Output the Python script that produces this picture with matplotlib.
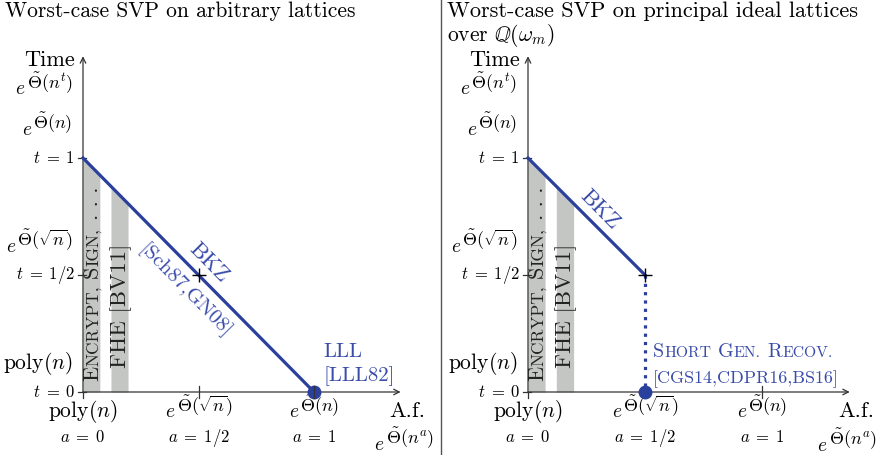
import matplotlib
matplotlib.use("Agg")
import numpy as np
import matplotlib.pyplot as plt
from matplotlib import transforms
from matplotlib.font_manager import FontProperties
from matplotlib.lines import Line2D

plt.rcParams['mathtext.fontset'] = 'cm'
plt.rcParams['font.family'] = ['cmr10', 'DejaVu Serif']
plt.rcParams['axes.formatter.use_mathtext'] = True

BLUE = '#2b3f9c'
TEXT_BLUE = '#3a4caa'
GRAY = '#c4c6c4'
AXIS = '#333333'

# axis ticks / labels ("e^..." labels are drawn as e + big exponent)
T_TICKS = [1, 0.5, 0]
T_TICK_LABELS = [r'$t\;=\;1$', r'$t\;=\;1/2$', r'$t\;=\;0$']
TIME_LABELS = [r'e^\tilde{\Theta}(n)', r'e^\tilde{\Theta}(\sqrt{n})', r'$\mathrm{poly}(n)$']
TIME_GENERAL = r'e^\tilde{\Theta}(n^t)'
A_TICKS = [0, 0.5, 1]
AF_LABELS = [r'$\mathrm{poly}(n)$', r'e^\tilde{\Theta}(\sqrt{n})', r'e^\tilde{\Theta}(n)']
A_TICK_LABELS = [r'$a\;=\;0$', r'$a\;=\;1/2$', r'$a\;=\;1$']
AF_GENERAL = r'e^\tilde{\Theta}(n^a)'

# shaded application ranges (approx. factor a)
APP_RANGES = [(0.0, 0.073), (0.121, 0.195)]

# algorithms: (a, t) curves
BKZ_A_ARB = [0, 1]
BKZ_T_ARB = [1, 0]
LLL_POINT = (1, 0)
BKZ_A_PRIN = [0, 0.5]
BKZ_T_PRIN = [1, 0.5]
SGR_A = [0.5, 0.5]
SGR_T = [0.5, 0]
SGR_POINT = (0.5, 0)

W, H = 885, 455
fig = plt.figure(figsize=(W / 100, H / 100), dpi=100)
renderer = fig.canvas.get_renderer()


def advance(s, size):
    fp = FontProperties(family='cmr10', size=size)
    w1, _, _ = renderer.get_text_width_height_descent(s + 'H', fp, ismath=False)
    w0, _, _ = renderer.get_text_width_height_descent('H', fp, ismath=False)
    return w1 - w0


def caps_pieces(words, size, small=0.78):
    # fake small caps: first letter full size, the rest smaller upper case
    out = []
    for i, word in enumerate(words):
        if i:
            out.append((' ', size))
        if word[0].isalpha():
            out.append((word[0], size))
            out.append((word[1:].upper(), size * small))
        else:
            out.append((word, size))
    return out


def run_text(ax, x, y, pieces, rotation=0, color='k'):
    rad = np.deg2rad(rotation)
    ux, uy = np.cos(rad), np.sin(rad)
    pos = 0.0
    for s, fs in pieces:
        if s.strip():
            tr = transforms.offset_copy(ax.transData, fig=fig, x=pos * ux, y=pos * uy, units='dots')
            ax.text(x, y, s, fontsize=fs, rotation=rotation, rotation_mode='anchor',
                    ha='left', va='baseline', color=color, transform=tr, clip_on=False)
        pos += advance(s, fs)


def label(ax, x, y, s, ha, size=15.5, e_size=14, x_size=13, rise=6.5):
    if not s.startswith('e^'):
        ax.text(x, y, s, ha=ha, va='baseline', fontsize=size)
        return
    expo = '$' + s[2:] + '$'
    w_e = renderer.get_text_width_height_descent('$e$', FontProperties(size=e_size), ismath=True)[0]
    w_x = renderer.get_text_width_height_descent(expo, FontProperties(size=x_size), ismath=True)[0]
    total = w_e + 1 + w_x
    start = {'right': -total, 'center': -total / 2, 'left': 0}[ha]
    tr = transforms.offset_copy(ax.transData, fig=fig, x=start, y=0, units='dots')
    ax.text(x, y, '$e$', ha='left', va='baseline', fontsize=e_size, transform=tr)
    tr = transforms.offset_copy(ax.transData, fig=fig, x=start + w_e + 1, y=rise, units='dots')
    ax.text(x, y, expo, ha='left', va='baseline', fontsize=x_size, transform=tr)


def panel(left_px, width_px, x0_px, scale):
    ax = fig.add_axes([left_px / W, 0, width_px / W, 1])
    ax.set_xlim(-(x0_px - left_px) / scale, (left_px + width_px - x0_px) / scale)
    ax.set_ylim(-(H - 392) / 234, 392 / 234)
    ax.axis('off')
    kw = dict(arrowprops=dict(arrowstyle='->', lw=0.9, color=AXIS, shrinkA=0, shrinkB=0))
    ax.annotate('', xy=(1.375, 0), xytext=(0, 0), **kw)
    ax.annotate('', xy=(0, 1.435), xytext=(0, 0), **kw)
    dx = 5 / scale
    dy = 6 / 234
    for t, lab in zip(T_TICKS, T_TICK_LABELS):
        ax.plot([-dx, dx * 0.6], [t, t], color=AXIS, lw=0.9)
        ax.text(-0.033, t, lab, ha='right', va='center', fontsize=12)
    for t, lab in zip(T_TICKS, TIME_LABELS):
        label(ax, -0.045, t + 0.1, lab, 'right')
    label(ax, -0.045, 1.272, TIME_GENERAL, 'right')
    ax.text(-0.035, 1.393, 'Time', ha='right', va='baseline', fontsize=16)
    for a, lab, lab2 in zip(A_TICKS, AF_LABELS, A_TICK_LABELS):
        label(ax, a, -0.108, lab, 'center')
        ax.text(a, -0.214, lab2, ha='center', va='baseline', fontsize=12)
    ax.text(1.325, -0.107, 'A.f.', ha='left', va='baseline', fontsize=16)
    for a0, a1 in APP_RANGES:
        xs = np.linspace(a0, a1, 20)
        ax.fill_between(xs, 0, 1 - xs, color=GRAY, lw=0, zorder=1)
    run_text(ax, 0.064, 0.047, caps_pieces(['Encrypt,', 'Sign,', '. . .'], 16), rotation=90,
             color='#222222')
    ax.text(0.186, 0.103, 'FHE [BV11]', rotation=90, rotation_mode='anchor', ha='left',
            va='baseline', fontsize=16.5, color='#222222')
    return ax, dx, dy


# left panel: arbitrary lattices
ax1, dx1, dy1 = panel(0, 440, 83, 231)
for a in A_TICKS:
    ax1.plot([a, a], [-dy1, dy1 if a > 0 else 0], color=AXIS, lw=0.9, zorder=4)
ax1.plot(BKZ_A_ARB, BKZ_T_ARB, color=BLUE, lw=2.3, zorder=3)
ax1.plot(*LLL_POINT, 'o', color=BLUE, ms=9, zorder=3)
ax1.plot(0.5, 0.5, '+', color='k', ms=10, mew=1.0, zorder=4)
ax1.text(0.545, 0.551, 'BKZ', rotation=-45.4, rotation_mode='anchor', ha='center', va='center',
         fontsize=16, color=TEXT_BLUE)
ax1.text(0.442, 0.43, '[Sch87,GN08]', rotation=-45.4, rotation_mode='anchor', ha='center',
         va='center', fontsize=15, color=TEXT_BLUE)
ax1.text(1.039, 0.15, 'LLL', ha='left', va='baseline', fontsize=15, color=TEXT_BLUE)
ax1.text(1.039, 0.047, '[LLL82]', ha='left', va='baseline', fontsize=15, color=TEXT_BLUE)
label(ax1, 1.39, -0.248, AF_GENERAL, 'center')
ax1.text(-0.336, 1.603, 'Worst-case SVP on arbitrary lattices', ha='left', va='baseline', fontsize=15.5)

# right panel: principal ideal lattices
ax2, dx2, dy2 = panel(441, 444, 528, 234)
for a in [0, 1]:
    ax2.plot([a, a], [-dy2, dy2 if a > 0 else 0], color=AXIS, lw=0.9, zorder=4)
ax2.plot(BKZ_A_PRIN, BKZ_T_PRIN, color=BLUE, lw=2.3, zorder=3)
ax2.plot(SGR_A, SGR_T, color=BLUE, lw=2.3, ls=(0, (1, 1.6)), zorder=3)
ax2.plot(*SGR_POINT, 'o', color=BLUE, ms=9, zorder=3)
ax2.plot(0.5, 0.5, '+', color='k', ms=10, mew=1.0, zorder=4)
ax2.text(0.308, 0.778, 'BKZ', rotation=-45.4, rotation_mode='anchor', ha='center', va='center',
         fontsize=16, color=TEXT_BLUE)
run_text(ax2, 0.534, 0.15, caps_pieces(['Short', 'Gen.', 'Recov.'], 14.5), color=TEXT_BLUE)
ax2.text(0.534, 0.038, '[CGS14,CDPR16,BS16]', ha='left', va='baseline', fontsize=13, color=TEXT_BLUE)
label(ax2, 1.363, -0.252, AF_GENERAL, 'center')
ax2.text(-0.346, 1.603, 'Worst-case SVP on principal ideal lattices', ha='left', va='baseline',
         fontsize=16)
ax2.text(-0.346, 1.5, r'over $\mathbb{Q}(\omega_m)$', ha='left', va='baseline', fontsize=15.5)

fig.add_artist(Line2D([441 / W, 441 / W], [0, 1], transform=fig.transFigure, color='#555555', lw=1))

fig.savefig('out.png', dpi=100)
